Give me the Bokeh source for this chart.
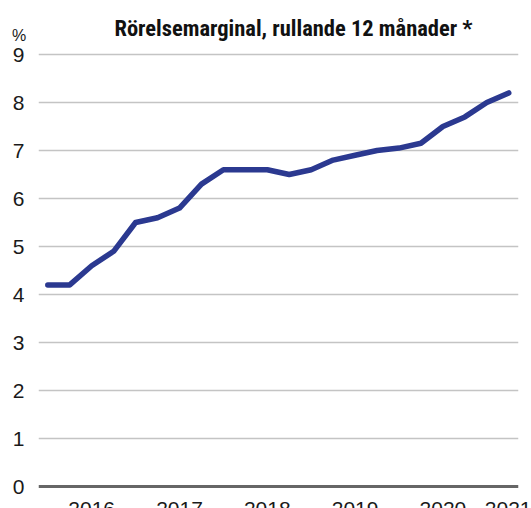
from bokeh.plotting import figure
from bokeh.layouts import column
from bokeh.models import Range1d, FixedTicker, Span, Label
from bokeh.embed import file_html
from bokeh.resources import INLINE

# Data (rolling 12-month operating margin, %, quarterly)
margin = [4.2, 4.2, 4.6, 4.9, 5.5, 5.6, 5.8, 6.3, 6.6, 6.6, 6.6,
          6.5, 6.6, 6.8, 6.9, 7.0, 7.05, 7.15, 7.5, 7.7, 8.0, 8.2]
period_index = list(range(len(margin)))
year_labels = ["2016", "2017", "2018", "2019", "2020", "2021"]
year_positions = [2, 6, 10, 14, 18, 21]
y_ticks = [0, 1, 2, 3, 4, 5, 6, 7, 8, 9]
title_text = "Rörelsemarginal, rullande 12 månader *"
unit_text = "%"

TEXT = "#1a1a1a"
COND = "Roboto Condensed, Noto Sans Condensed, DejaVu Sans Condensed, sans-serif"

# Header with title and unit
HW, HH = 531, 42
head = figure(width=HW, height=HH, output_backend="svg", toolbar_location=None,
              x_range=Range1d(0, HW), y_range=Range1d(0, HH),
              min_border=0, frame_align=False)
head.axis.visible = False
head.grid.visible = False
head.outline_line_color = None
head.add_layout(Label(x=293, y=HH - 27, x_units="data", y_units="data",
                      text=title_text, text_align="center", text_baseline="alphabetic",
                      text_font=COND, text_font_style="bold",
                      text_font_size="22.5px", text_color="#111111"))
head.add_layout(Label(x=18.5, y=HH - 35, x_units="data", y_units="data",
                      text=unit_text, text_align="center", text_baseline="alphabetic",
                      text_font="Liberation Sans", text_font_size="16px", text_color=TEXT))

# Main chart
W, H = 531, 482
p = figure(width=W, height=H, output_backend="svg", toolbar_location=None,
           x_range=Range1d(-0.4237, 21.444), y_range=Range1d(-0.0625, 9.25),
           min_border_left=38, min_border_right=13, min_border_top=0, min_border_bottom=35)
p.outline_line_color = None

p.yaxis.ticker = FixedTicker(ticks=y_ticks)
p.yaxis.axis_line_color = None
p.yaxis.major_tick_line_color = None
p.yaxis.minor_tick_line_color = None
p.yaxis.major_label_standoff = 8
p.yaxis.major_label_text_font = "Liberation Sans"
p.yaxis.major_label_text_font_size = "21px"
p.yaxis.major_label_text_color = TEXT

p.xaxis.ticker = FixedTicker(ticks=year_positions)
p.xaxis.major_label_overrides = {pos: lab for pos, lab in zip(year_positions, year_labels)}
p.xaxis.axis_line_color = None
p.xaxis.major_tick_line_color = None
p.xaxis.minor_tick_line_color = None
p.xaxis.major_label_standoff = 6
p.xaxis.major_label_text_font = "Liberation Sans"
p.xaxis.major_label_text_font_size = "21px"
p.xaxis.major_label_text_color = TEXT

p.xgrid.visible = False
p.ygrid.ticker = FixedTicker(ticks=y_ticks[1:])
p.ygrid.grid_line_color = "#c4c4c4"
p.ygrid.grid_line_width = 1.5

p.add_layout(Span(location=0, dimension="width", line_color="#666666", line_width=3))

p.line(period_index, margin, line_color="#2b3990", line_width=5.5,
       line_join="round", line_cap="round")

layout = column(head, p, spacing=0)
open("out.html", "w").write(file_html(layout, INLINE))
